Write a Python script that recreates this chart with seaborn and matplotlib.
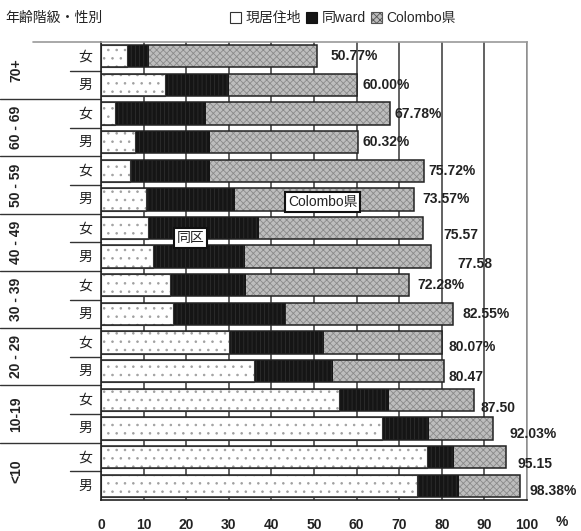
import numpy as np
import pandas as pd
import matplotlib
matplotlib.use('Agg')
import matplotlib.pyplot as plt
import matplotlib.transforms as mtransforms
from matplotlib.patches import Patch
import seaborn as sns

# ------------------------------------------------------------
# data (top bar first)
# ------------------------------------------------------------
age_groups = ['70+', '60 - 69', '50 - 59', '40 - 49', '30 - 39', '20 - 29', '10-19', '<10']
sexes = ['女', '男']

# share living at the present address (%)
stay_pct = [6.0, 15.1, 3.3, 8.0, 6.8, 10.6, 10.9, 12.3,
            16.1, 17.0, 30.0, 35.8, 55.8, 66.0, 76.5, 74.1]
# share from the same ward (%)
ward_pct = [5.2, 14.9, 21.3, 17.6, 18.8, 20.9, 26.1, 21.6,
            17.9, 26.5, 22.3, 18.7, 11.8, 10.9, 6.4, 10.0]
# cumulative total up to Colombo district (%)
total_pct = [50.77, 60.00, 67.78, 60.32, 75.72, 73.57, 75.57, 77.58,
             72.28, 82.55, 80.07, 80.47, 87.50, 92.03, 95.15, 98.38]
total_labels = ['50.77%', '60.00%', '67.78%', '60.32%', '75.72%', '73.57%', '75.57', '77.58',
                '72.28%', '82.55%', '80.07%', '80.47', '87.50', '92.03%', '95.15', '98.38%']

legend_names = ['現居住地', '同ward', 'Colombo県']
x_ticks = [0, 10, 20, 30, 40, 50, 60, 70, 80, 90, 100]

# label placement tweaks (layout only)
label_dx = [3.0, 1.3, 1.0, 1.0, 1.2, 1.9, 4.8, 6.1, 2.0, 2.3, 1.6, 1.2, 1.6, 3.8, 2.6, 2.1]
label_dy = [0, 0, 0, 0, 0, 0, 0.25, 0.25, 0, 0, 0.15, 0.2, 0.28, 0.2, 0.25, 0.18]

# ------------------------------------------------------------
# table
# ------------------------------------------------------------
rows = [f'{a}|{s}' for a in age_groups for s in sexes]
df = pd.DataFrame({'row': rows,
                   'stay': stay_pct,
                   'ward_cum': np.array(stay_pct) + np.array(ward_pct),
                   'total': total_pct})

# ------------------------------------------------------------
# style
# ------------------------------------------------------------
sns.set_style('white')
plt.rcParams['font.family'] = ['Liberation Sans', 'Noto Sans CJK JP', 'DejaVu Sans']
plt.rcParams['hatch.linewidth'] = 0.6

COL_STAY = 'white'
COL_WARD = '#151515'
COL_COLOMBO = '#bdbdbd'

fig = plt.figure(figsize=(5.81, 5.31), dpi=100)
ax = fig.add_axes([0.174, 0.0584, 0.733, 0.8626])

# stacked bars drawn back to front
sns.barplot(data=df, x='total', y='row', orient='h', color=COL_COLOMBO,
            saturation=1, width=0.78, errorbar=None, ax=ax)
sns.barplot(data=df, x='ward_cum', y='row', orient='h', color=COL_WARD,
            saturation=1, width=0.78, errorbar=None, ax=ax)
sns.barplot(data=df, x='stay', y='row', orient='h', color=COL_STAY,
            saturation=1, width=0.78, errorbar=None, ax=ax)

n = len(rows)
for p in ax.patches[:n]:
    p.set_hatch('xxxxx')
    p.set_edgecolor('#8a8a8a')
    p.set_linewidth(0)
for p in ax.patches[n:2 * n]:
    p.set_hatch('||||')
    p.set_edgecolor('#2e2e2e')
    p.set_linewidth(0)
for p in ax.patches[2 * n:3 * n]:
    p.set_hatch('..')
    p.set_edgecolor('#a0a0a0')
    p.set_linewidth(0)

# outline of the whole bar
sns.barplot(data=df, x='total', y='row', orient='h', color='#222222', fill=False,
            linewidth=1.1, width=0.78, errorbar=None, ax=ax)
# outline of the dotted part
sns.barplot(data=df, x='stay', y='row', orient='h', color='#333333', fill=False,
            linewidth=0.8, width=0.78, errorbar=None, ax=ax)

# total labels
for i, (v, lab) in enumerate(zip(total_pct, total_labels)):
    ax.text(v + label_dx[i], i + label_dy[i], lab, va='center', ha='left',
            fontsize=10, fontweight='bold', color='#222222')

# axes
ax.set_xlim(0, 100)
ax.set_ylim(n - 0.5, -0.5)
ax.set_xticks(x_ticks)
ax.set_xticklabels([str(t) for t in x_ticks], fontsize=10, fontweight='bold', color='#222222')
ax.tick_params(axis='x', length=0, pad=13)
ax.set_yticks([])
ax.set_xlabel('')
ax.set_ylabel('')
ax.set_axisbelow(True)
ax.grid(axis='x', color='#555555', linewidth=1.3)
ax.grid(axis='y', visible=False)
for side in ['left', 'bottom']:
    ax.spines[side].set_color('#222222')
    ax.spines[side].set_linewidth(1.2)
for side in ['top', 'right']:
    ax.spines[side].set_color('#999999')
    ax.spines[side].set_linewidth(1.2)

# two level y labels
trans = mtransforms.blended_transform_factory(ax.transAxes, ax.transData)
for g, age in enumerate(age_groups):
    ax.text(-0.2, 2 * g + 0.5, age, transform=trans, rotation=90, ha='center', va='center',
            fontsize=10, fontweight='bold', color='#222222')
    for k, s in enumerate(sexes):
        ax.text(-0.038, 2 * g + k, s, transform=trans, ha='center', va='center',
                fontsize=10, color='#222222')
    ax.plot([-0.073, 0], [2 * g + 0.5, 2 * g + 0.5], transform=trans, color='#333333',
            linewidth=1.0, clip_on=False)
    if g > 0:
        ax.plot([-0.237, 0], [2 * g - 0.5, 2 * g - 0.5], transform=trans, color='#333333',
                linewidth=1.0, clip_on=False)
ax.plot([-0.16, 0], [-0.5, -0.5], transform=trans, color='#999999', linewidth=1.2, clip_on=False)

# callouts
box = dict(boxstyle='square,pad=0.2', facecolor='white', edgecolor='#111111', linewidth=1.5)
ax.text(52, 5.1, 'Colombo県', ha='center', va='center', fontsize=10, bbox=box, color='#222222')
ax.text(21, 6.35, '同区', ha='center', va='center', fontsize=10, bbox=box, color='#222222')

# title, legend, unit
fig.text(0.009, 0.966, '年齢階級・性別', ha='left', va='center', fontsize=10, color='#222222')
handles = [Patch(facecolor=COL_STAY, edgecolor='#333333', linewidth=0.8),
           Patch(facecolor=COL_WARD, edgecolor='#111111', linewidth=0.8),
           Patch(facecolor=COL_COLOMBO, edgecolor='#555555', linewidth=0.8, hatch='xxxxx')]
fig.legend(handles, legend_names, loc='center', bbox_to_anchor=(0.59, 0.966), ncol=3,
           frameon=False, fontsize=10, handlelength=0.8, handleheight=0.8,
           handletextpad=0.3, columnspacing=0.4, borderaxespad=0)
fig.text(0.967, 1 - 522 / 531, '%', ha='center', va='center', fontsize=10,
         fontweight='bold', color='#222222')

fig.savefig('out.png', dpi=100)
